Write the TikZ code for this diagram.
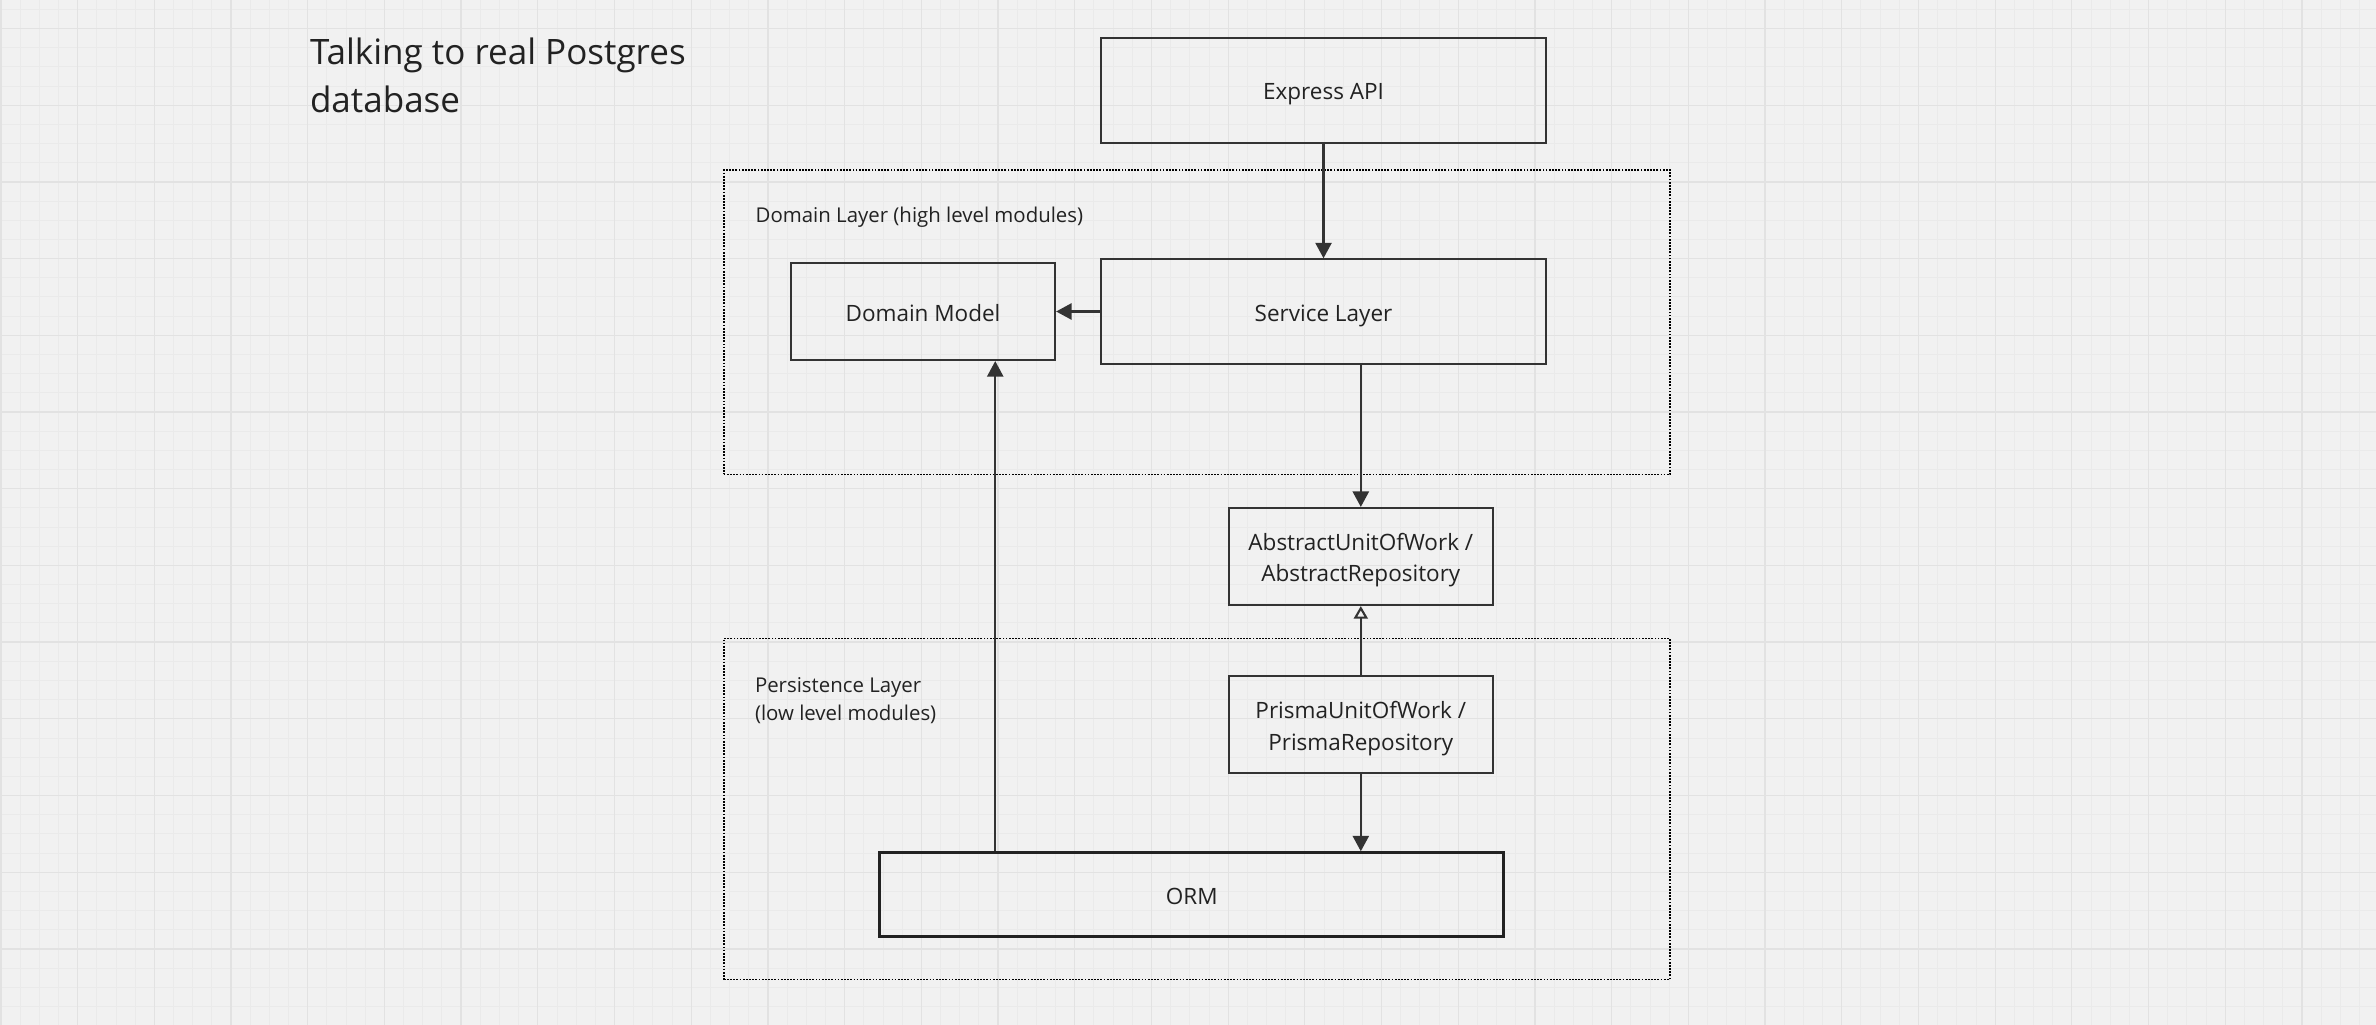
\documentclass[tikz,border=0pt]{standalone}
\usepackage{fontspec}
\setmainfont{Open Sans}
\usepackage{tikz}
\usetikzlibrary{arrows.meta}

\definecolor{board}{HTML}{F1F1F1}
\definecolor{gridminor}{HTML}{EAEAEA}
\definecolor{gridmajor}{HTML}{E2E2E2}
\definecolor{ink}{HTML}{222222}
\definecolor{edge}{HTML}{333333}

\begin{document}
\begin{tikzpicture}[x=0.01cm, y=-0.01cm,
	box/.style={draw=edge, line width=0.6pt, inner sep=0pt, text=ink, align=center,
		font=\fontsize{6.4}{9}\selectfont, text height=7pt, text depth=1.5pt},
	twoline/.style={text height=16pt, text depth=1.5pt},
	layer/.style={draw=black, line width=0.5pt, dash pattern=on 0.5pt off 0.4pt, inner sep=0pt},
	layername/.style={anchor=base west, inner sep=0pt, text=ink, align=left,
		font=\fontsize{5.8}{8.05}\selectfont},
	arr/.style={draw=edge, line width=0.6pt, -{Triangle[length=4.4pt,width=4.6pt]}},
	impl/.style={draw=edge, line width=0.6pt, -{Triangle[open,length=3.6pt,width=4pt]}}]
	% board and grid
	\fill[board] (0,0) rectangle (2376,1025);
	\useasboundingbox (0,0) rectangle (2376,1025);
	\foreach \i in {0,...,124} \draw[gridminor, line width=0.25pt] (0.9+\i*19.175,0) -- (0.9+\i*19.175,1025);
	\foreach \i in {0,...,54} \draw[gridminor, line width=0.25pt] (0,9.3+\i*19.175) -- (2376,9.3+\i*19.175);
	\foreach \i in {0,...,31} \draw[gridmajor, line width=0.35pt] (0.9+\i*76.7,0) -- (0.9+\i*76.7,1025);
	\foreach \i in {0,...,13} \draw[gridmajor, line width=0.35pt] (0,28.5+\i*76.7) -- (2376,28.5+\i*76.7);

	\node[anchor=base west, inner sep=0pt, text=ink, align=left, font=\fontsize{9.96}{13.74}\selectfont] (title) at (309.3,112.7) {Talking to real Postgres\\database};

	% layers
	\node[layer, minimum width=9.46cm, minimum height=3.04cm] (domain) at (1197,322.4) {};
	\node[layer, minimum width=9.455cm, minimum height=3.41cm] (persist) at (1196.8,809) {};
	\node[layername] (domainname) at (755,222.3) {Domain Layer (high level modules)};
	\node[layername] (persistname) at (754.3,720.7) {Persistence Layer\\(low level modules)};

	% boxes
	\node[box, minimum width=4.45cm, minimum height=1.045cm] (api) at (1323.5,90.3) {Express API};
	\node[box, minimum width=4.45cm, minimum height=1.043cm] (service) at (1323.5,311.5) {Service Layer};
	\node[box, minimum width=2.64cm, minimum height=0.97cm] (model) at (923,311.5) {Domain Model};
	\node[box, twoline, minimum width=2.637cm, minimum height=0.97cm] (abstract) at (1360.8,556.5) {AbstractUnitOfWork /\\AbstractRepository};
	\node[box, twoline, minimum width=2.637cm, minimum height=0.973cm] (prisma) at (1360.8,724.7) {PrismaUnitOfWork /\\PrismaRepository};
	\node[box, line width=0.8pt, draw=ink, minimum width=6.233cm, minimum height=0.84cm] (orm) at (1191.7,894.7) {ORM};

	% arrows
	\draw[arr] (api) -- (service);
	\draw[arr] (service) -- (model);
	\draw[arr] (abstract.north |- service.south) -- (abstract.north);
	\draw[impl] (prisma) -- (abstract);
	\draw[arr] (prisma.south) -- (prisma.south |- orm.north);
	\draw[arr, line width=0.45pt] ([xshift=1.167cm]orm.north west) coordinate (ormtap) -- (ormtap |- model.south);
\end{tikzpicture}
\end{document}
